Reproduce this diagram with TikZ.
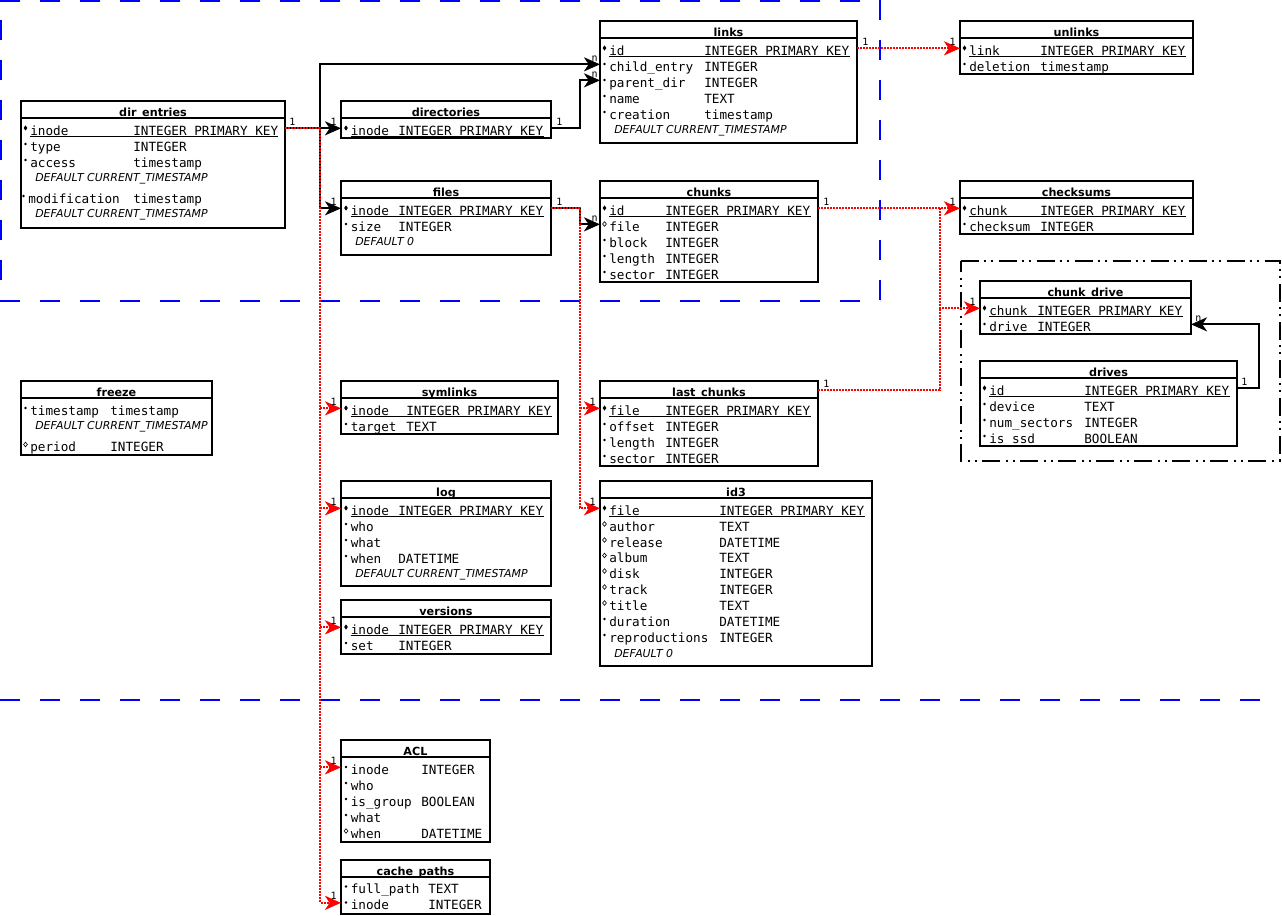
\documentclass[tikz,border=0pt]{standalone}
\usepackage{fontspec}
\usetikzlibrary{arrows.meta,calc}
\newfontfamily\dvmono{DejaVu Sans Mono}
\newfontfamily\dvsans{DejaVu Sans}

\tikzset{
 tbl/.style={draw, line width=1.5pt, anchor=north west, inner sep=0pt, outer sep=0pt},
 ttl/.style={font=\dvsans\bfseries\fontsize{8.4pt}{10pt}\selectfont, anchor=base, inner sep=0pt},
 fld/.style={font=\dvmono\fontsize{9.5pt}{11pt}\selectfont, anchor=base west, inner sep=0pt, text height=10pt, text depth=0pt},
 dflt/.style={font=\dvsans\itshape\fontsize{8.2pt}{10pt}\selectfont, anchor=base west, inner sep=0pt},
 lbl/.style={font=\dvmono\fontsize{7.5pt}{8pt}\selectfont, inner sep=0pt},
 fk/.style={line width=1.5pt, -{Stealth[length=12pt,width=10.5pt,inset=3.5pt]}},
 rfk/.style={red, line width=1.7pt, dash pattern=on 1.5pt off 0.75pt, -{Stealth[length=12pt,width=10.5pt,inset=3.5pt]}},
 rln/.style={red, line width=1.7pt, dash pattern=on 1.5pt off 0.75pt},
 zone/.style={blue, line width=1.5pt, dash pattern=on 15pt off 15pt},
 grp/.style={line width=1.5pt, dash pattern=on 13.5pt off 3.75pt on 1.5pt off 3.75pt on 1.5pt off 4.5pt},
}

\newcommand{\dbtab}[6]{%
 \node[tbl, minimum width=#4*0.75pt, minimum height=#5*0.75pt] (#1) at (#2,#3) {};
 \draw[line width=1.5pt] (#2,{#3+17}) -- ({#2+#4},{#3+17});
 \node[ttl] (#1-t) at ({#2+#4/2},{#3+15}) {#6};
}
\newcommand{\dbbul}[3]{%
 \ifx p#1\fill ({#2-4.5},{#3-9.6}) -- ({#2-2.7},{#3-7}) -- ({#2-4.5},{#3-4.4}) -- ({#2-6.3},{#3-7}) -- cycle;\fi
 \ifx d#1\fill ({#2-4.5},{#3-7}) circle[radius=1.1pt];\fi
 \ifx o#1\draw[line width=0.45pt] ({#2-4.5},{#3-9.3}) -- ({#2-2.6},{#3-7}) -- ({#2-4.5},{#3-4.7}) -- ({#2-6.4},{#3-7}) -- cycle;\fi}
\newcommand{\dbrow}[8]{%
 \node[fld] (#1-#2) at (#4,#5) {#6};
 \node[fld] (#1-#2-ty) at (#7,#5) {#8};
 \dbbul{#3}{#4}{#5}}
\newcommand{\dbul}[3]{\draw[line width=0.75pt] (#1,{#3+1.7}) -- (#2,{#3+1.7});}
\newcommand{\dbdef}[4]{\node[dflt] (#1) at (#2,#3) {#4};}

\begin{document}
\begin{tikzpicture}[x=0.75pt,y=-0.75pt]
\useasboundingbox (0,0) rectangle (1282,915);
% zones
\draw[zone] (0,1) -- (880,1);
\draw[zone, dash phase=15pt] (1,0) -- (1,300);
\draw[zone] (880,0) -- (880,300);
\draw[zone] (0,300.5) -- (880,300.5);
\draw[zone] (0,700) -- (1260,700);
\draw[grp] (960.5,261) -- (1279.5,261) -- (1279.5,460.5) -- (960.5,460.5) -- cycle;

% dir_entries
\dbtab{de}{21}{101}{264}{127}{dir\_entries}
\dbrow{de}{inode}{p}{30}{135}{inode}{133}{INTEGER PRIMARY KEY}
\dbul{30}{278}{135}
\dbrow{de}{type}{d}{30}{151}{type}{133}{INTEGER}
\dbrow{de}{access}{d}{30}{167}{access}{133}{timestamp}
\dbdef{de-d1}{35}{181.5}{DEFAULT CURRENT\_TIMESTAMP}
\dbrow{de}{mod}{d}{28}{203}{modification}{133}{timestamp}
\dbdef{de-d2}{35}{217}{DEFAULT CURRENT\_TIMESTAMP}

% directories
\dbtab{dirs}{341}{101}{210}{37}{directories}
\dbrow{dirs}{inode}{p}{350.5}{135}{inode}{398}{INTEGER PRIMARY KEY}
\dbul{350.5}{544}{135}

% files
\dbtab{files}{341}{181}{210}{74}{files}
\dbrow{files}{inode}{p}{350.5}{215}{inode}{398}{INTEGER PRIMARY KEY}
\dbul{350.5}{544}{215}
\dbrow{files}{size}{d}{350.5}{231}{size}{398}{INTEGER}
\dbdef{files-d}{355}{245}{DEFAULT 0}

% links
\dbtab{links}{600}{21}{257}{122}{links}
\dbrow{links}{id}{p}{609}{55}{id}{704}{INTEGER PRIMARY KEY}
\dbul{609}{850}{55}
\dbrow{links}{child}{d}{609}{71}{child\_entry}{704}{INTEGER}
\dbrow{links}{parent}{d}{609}{87}{parent\_dir}{704}{INTEGER}
\dbrow{links}{name}{d}{609}{103}{name}{704}{TEXT}
\dbrow{links}{creation}{d}{609}{119}{creation}{704}{timestamp}
\dbdef{links-d}{614}{133}{DEFAULT CURRENT\_TIMESTAMP}

% unlinks
\dbtab{unl}{960}{21}{233}{53}{unlinks}
\dbrow{unl}{link}{p}{969}{55}{link}{1040}{INTEGER PRIMARY KEY}
\dbul{969}{1186}{55}
\dbrow{unl}{del}{d}{969}{71}{deletion}{1040}{timestamp}

% chunks
\dbtab{chunks}{600}{181}{218}{101}{chunks}
\dbrow{chunks}{id}{p}{609}{215}{id}{665}{INTEGER PRIMARY KEY}
\dbul{609}{811}{215}
\dbrow{chunks}{file}{o}{609}{231}{file}{665}{INTEGER}
\dbrow{chunks}{block}{d}{609}{247}{block}{665}{INTEGER}
\dbrow{chunks}{length}{d}{609}{263}{length}{665}{INTEGER}
\dbrow{chunks}{sector}{d}{609}{279}{sector}{665}{INTEGER}

% checksums
\dbtab{cks}{960}{181}{233}{53}{checksums}
\dbrow{cks}{chunk}{p}{969}{215}{chunk}{1040}{INTEGER PRIMARY KEY}
\dbul{969}{1186}{215}
\dbrow{cks}{sum}{d}{969}{231}{checksum}{1040}{INTEGER}

% chunk_drive
\dbtab{cd}{980}{281}{211}{53}{chunk\_drive}
\dbrow{cd}{chunk}{p}{989}{315}{chunk}{1037}{INTEGER PRIMARY KEY}
\dbul{989}{1183}{315}
\dbrow{cd}{drive}{d}{989}{331}{drive}{1037}{INTEGER}

% drives
\dbtab{drv}{980}{361}{257}{85}{drives}
\dbrow{drv}{id}{p}{989}{395}{id}{1084}{INTEGER PRIMARY KEY}
\dbul{989}{1230}{395}
\dbrow{drv}{device}{d}{989}{411}{device}{1084}{TEXT}
\dbrow{drv}{num}{d}{989}{427}{num\_sectors}{1084}{INTEGER}
\dbrow{drv}{ssd}{d}{989}{443}{is\_ssd}{1084}{BOOLEAN}

% freeze
\dbtab{frz}{21}{381}{191}{74}{freeze}
\dbrow{frz}{ts}{d}{30}{415}{timestamp}{110}{timestamp}
\dbdef{frz-d}{35}{429.5}{DEFAULT CURRENT\_TIMESTAMP}
\dbrow{frz}{period}{o}{30}{451.5}{period}{110}{INTEGER}

% symlinks
\dbtab{sym}{341}{381}{217}{53}{symlinks}
\dbrow{sym}{inode}{p}{350.5}{415}{inode}{406}{INTEGER PRIMARY KEY}
\dbul{350.5}{552}{415}
\dbrow{sym}{target}{d}{350.5}{431}{target}{406}{TEXT}

% log
\dbtab{log}{341}{481}{210}{105}{log}
\dbrow{log}{inode}{p}{350.5}{515}{inode}{398}{INTEGER PRIMARY KEY}
\dbul{350.5}{544}{515}
\dbrow{log}{who}{d}{350.5}{531}{who}{398}{}
\dbrow{log}{what}{d}{350.5}{547}{what}{398}{}
\dbrow{log}{when}{d}{350.5}{563}{when}{398}{DATETIME}
\dbdef{log-d}{355}{577}{DEFAULT CURRENT\_TIMESTAMP}

% versions
\dbtab{ver}{341}{600}{210}{54}{versions}
\dbrow{ver}{inode}{p}{350.5}{634}{inode}{398}{INTEGER PRIMARY KEY}
\dbul{350.5}{544}{634}
\dbrow{ver}{set}{d}{350.5}{650}{set}{398}{INTEGER}

% last_chunks
\dbtab{lc}{600}{381}{218}{85}{last\_chunks}
\dbrow{lc}{file}{p}{609}{415}{file}{665}{INTEGER PRIMARY KEY}
\dbul{609}{811}{415}
\dbrow{lc}{offset}{d}{609}{431}{offset}{665}{INTEGER}
\dbrow{lc}{length}{d}{609}{447}{length}{665}{INTEGER}
\dbrow{lc}{sector}{d}{609}{463}{sector}{665}{INTEGER}

% id3
\dbtab{id3}{600}{481}{272}{185}{id3}
\dbrow{id3}{file}{p}{609}{515}{file}{719}{INTEGER PRIMARY KEY}
\dbul{609}{865}{515}
\dbrow{id3}{author}{o}{609}{531}{author}{719}{TEXT}
\dbrow{id3}{release}{o}{609}{547}{release}{719}{DATETIME}
\dbrow{id3}{album}{o}{609}{562.5}{album}{719}{TEXT}
\dbrow{id3}{disk}{o}{609}{578}{disk}{719}{INTEGER}
\dbrow{id3}{track}{o}{609}{594}{track}{719}{INTEGER}
\dbrow{id3}{title}{o}{609}{610}{title}{719}{TEXT}
\dbrow{id3}{duration}{d}{609}{626}{duration}{719}{DATETIME}
\dbrow{id3}{repro}{d}{609}{642}{reproductions}{719}{INTEGER}
\dbdef{id3-d}{614}{657}{DEFAULT 0}

% ACL
\dbtab{acl}{341}{740}{149}{102}{ACL}
\dbrow{acl}{inode}{d}{350.5}{774}{inode}{421}{INTEGER}
\dbrow{acl}{who}{d}{350.5}{790}{who}{421}{}
\dbrow{acl}{group}{d}{350.5}{806}{is\_group}{421}{BOOLEAN}
\dbrow{acl}{what}{d}{350.5}{822}{what}{421}{}
\dbrow{acl}{when}{o}{350.5}{838}{when}{421}{DATETIME}

% cache_paths
\dbtab{cp}{341}{860}{149}{54}{cache\_paths}
\dbrow{cp}{full}{d}{350.5}{893.5}{full\_path}{428}{TEXT}
\dbrow{cp}{inode}{d}{350.5}{909.5}{inode}{428}{INTEGER}

% bus coordinates
\coordinate (busA) at (320,0);
\coordinate (busB) at (580,0);
\coordinate (busC) at (940,0);
\coordinate (busD) at (1259,0);
\coordinate (lc-h) at ($(lc.north east)+(0,9)$);

% black connectors
\draw[fk] (de.east |- de-inode) -| (busA |- links-child) -- (links.west |- links-child);
\draw[fk] (busA |- de-inode) -- (dirs.west |- dirs-inode);
\draw[fk] (busA |- de-inode) |- (files.west |- files-inode);
\draw[fk] (dirs.east |- dirs-inode) -| (busB |- links-parent) -- (links.west |- links-parent);
\draw[fk] (files.east |- files-inode) -| (busB |- chunks-file) -- (chunks.west |- chunks-file);
\draw[fk] (drv.east |- drv-id) -| (busD |- cd-drive) -- (cd.east |- cd-drive);

% red connectors
\draw[rfk] (de.east |- de-inode) -| (busA |- cp-inode) -- (cp.west |- cp-inode);
\foreach \t/\r in {sym/sym-inode, log/log-inode, ver/ver-inode, acl/acl-inode}
  \draw[rfk] (busA |- \r) -- (\t.west |- \r);
\draw[rfk] (files.east |- files-inode) -| (busB |- id3-file) -- (id3.west |- id3-file);
\draw[rfk] (busB |- lc-file) -- (lc.west |- lc-file);
\draw[rfk] (links.east |- links-id) -- (unl.west |- unl-link);
\draw[rfk] (chunks.east |- chunks-id) -- (cks.west |- cks-chunk);
\draw[rfk] (busC |- chunks-id) |- (cd.west |- cd-chunk);
\draw[rln] (lc-h) -| (busC |- cd-chunk);

% cardinality labels
\node[lbl, anchor=base west] (l1) at ($(de.east |- de-inode)+(4,-3)$) {1};
\node[lbl, anchor=base east] (l2) at ($(dirs.west |- dirs-inode)+(-4,-3)$) {1};
\node[lbl, anchor=base east] (l3) at ($(files.west |- files-inode)+(-4,-3)$) {1};
\node[lbl, anchor=base east] (l4) at ($(links.west |- links-child)+(-2,-3)$) {n};
\node[lbl, anchor=base west] (l5) at ($(dirs.east |- dirs-inode)+(5,-3)$) {1};
\node[lbl, anchor=base east] (l6) at ($(links.west |- links-parent)+(-2,-3)$) {n};
\node[lbl, anchor=base west] (l7) at ($(files.east |- files-inode)+(5,-3)$) {1};
\node[lbl, anchor=base east] (l8) at ($(chunks.west |- chunks-file)+(-2,-3)$) {n};
\node[lbl, anchor=base east] (l9) at ($(sym.west |- sym-inode)+(-4,-3)$) {1};
\node[lbl, anchor=base east] (l10) at ($(log.west |- log-inode)+(-4,-3)$) {1};
\node[lbl, anchor=base east] (l11) at ($(ver.west |- ver-inode)+(-4,-3)$) {1};
\node[lbl, anchor=base east] (l12) at ($(acl.west |- acl-inode)+(-4,-3)$) {1};
\node[lbl, anchor=base east] (l13) at ($(cp.west |- cp-inode)+(-4,-3)$) {1};
\node[lbl, anchor=base east] (l14) at ($(lc.west |- lc-file)+(-4,-3)$) {1};
\node[lbl, anchor=base east] (l15) at ($(id3.west |- id3-file)+(-4,-3)$) {1};
\node[lbl, anchor=base west] (l16) at ($(links.east |- links-id)+(5,-3)$) {1};
\node[lbl, anchor=base east] (l17) at ($(unl.west |- unl-link)+(-4,-3)$) {1};
\node[lbl, anchor=base west] (l18) at ($(chunks.east |- chunks-id)+(5,-3)$) {1};
\node[lbl, anchor=base east] (l19) at ($(cks.west |- cks-chunk)+(-4,-3)$) {1};
\node[lbl, anchor=base east] (l20) at ($(cd.west |- cd-chunk)+(-4,-3)$) {1};
\node[lbl, anchor=base west] (l21) at ($(lc-h)+(5,-3)$) {1};
\node[lbl, anchor=base west] (l22) at ($(drv.east |- drv-id)+(4,-3)$) {1};
\node[lbl, anchor=base west] (l23) at ($(cd.east |- cd-drive)+(4,-3)$) {n};
\end{tikzpicture}
\end{document}
